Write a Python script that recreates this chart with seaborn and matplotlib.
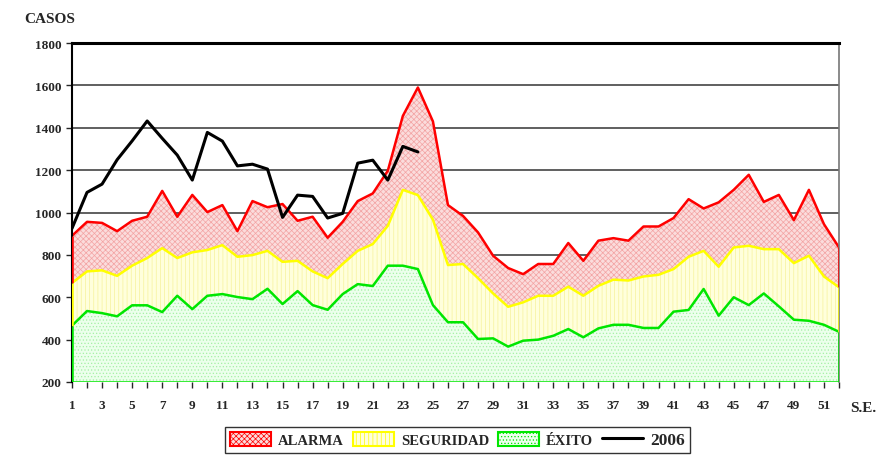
import numpy as np
import matplotlib
matplotlib.use("Agg")
import matplotlib.pyplot as plt
import seaborn as sns
from matplotlib.patches import Patch
from matplotlib.lines import Line2D

# semanas epidemiologicas
semanas = list(range(1, 53))

# canal endemico (limites superiores de cada zona)
exito = [466, 535, 525, 510, 562, 562, 530, 607, 544, 607,
         615, 601, 591, 640, 568, 629, 563, 541, 615, 662,
         653, 749, 749, 733, 563, 482, 482, 403, 406, 367,
         395, 400, 418, 450, 411, 453, 470, 470, 455, 455,
         532, 540, 639, 513, 600, 563, 618, 557, 494, 489,
         470, 437]
seguridad = [667, 722, 727, 701, 749, 785, 832, 785, 812, 823,
             846, 791, 799, 819, 767, 772, 722, 690, 757, 819,
             851, 937, 1107, 1082, 966, 752, 757, 690, 618, 555,
             576, 607, 607, 650, 607, 654, 683, 679, 698, 706,
             733, 791, 819, 744, 835, 843, 827, 827, 761, 796,
             698, 647]
alarma = [890, 956, 951, 912, 961, 980, 1102, 980, 1083, 1002,
          1035, 912, 1054, 1025, 1040, 961, 980, 881, 956, 1054,
          1090, 1197, 1456, 1590, 1430, 1035, 984, 906, 796, 738,
          709, 757, 757, 856, 772, 867, 879, 867, 934, 934,
          974, 1063, 1019, 1048, 1107, 1178, 1050, 1083, 964, 1107,
          945, 835]

# casos observados 2006
semanas_2006 = list(range(1, 25))
casos_2006 = [925, 1095, 1134, 1249, 1338, 1432, 1350, 1271, 1153, 1378,
              1337, 1220, 1228, 1205, 977, 1082, 1076, 974, 996, 1233,
              1247, 1153, 1312, 1286]

base = 200
y_ticks = list(range(200, 1801, 200))
x_labels = list(range(1, 52, 2))

sns.set_style("white")
plt.rcParams['font.family'] = ['Liberation Serif', 'DejaVu Serif']
plt.rcParams['font.weight'] = 'bold'
plt.rcParams['hatch.linewidth'] = 0.5

fig = plt.figure(figsize=(8.8, 4.6), dpi=100)
ax = fig.add_axes([0.0818, 0.1674, 0.8716, 0.7369])

# zonas rellenas
ax.fill_between(semanas, base, exito, facecolor='#ecffec', edgecolor='#a6f0a6',
                hatch='.....', linewidth=0)
ax.fill_between(semanas, exito, seguridad, facecolor='#ffffdc', edgecolor='#f6f29a',
                hatch='||||', linewidth=0)
ax.fill_between(semanas, seguridad, alarma, facecolor='#fbdcdc', edgecolor='#f3a3a3',
                hatch='xxxxxx', linewidth=0)

# lineas de borde
sns.lineplot(x=semanas, y=alarma, ax=ax, color='#ff0000', linewidth=1.8)
sns.lineplot(x=semanas, y=seguridad, ax=ax, color='#ffff00', linewidth=1.8)
sns.lineplot(x=semanas, y=exito, ax=ax, color='#00e600', linewidth=1.8)
ax.hlines(base, semanas[0], semanas[-1], color='#00e600', linewidth=1.8, zorder=4)
for i in (0, -1):
    ax.vlines(semanas[i], seguridad[i], alarma[i], color='#ff0000', linewidth=1.8, zorder=4)
    ax.vlines(semanas[i], exito[i], seguridad[i], color='#ffff00', linewidth=1.8, zorder=4)
    ax.vlines(semanas[i], base, exito[i], color='#00e600', linewidth=1.8, zorder=4)

sns.lineplot(x=semanas_2006, y=casos_2006, ax=ax, color='black', linewidth=2.2)

ax.set_xlim(1, 52)
ax.set_ylim(200, 1800)
ax.set_yticks(y_ticks)
ax.set_yticklabels([str(v) for v in y_ticks], fontsize=9.5, fontweight='bold')
ax.set_xticks(semanas, minor=True)
ax.set_xticks(x_labels)
ax.set_xticklabels([str(v) for v in x_labels], fontsize=9.5, fontweight='bold')
ax.tick_params(axis='x', which='both', direction='out', length=4, width=1, pad=8, bottom=True)
ax.tick_params(axis='y', direction='out', length=4, width=1, left=True)

for v in y_ticks[1:-1]:
    ax.axhline(v, color='#444444', linewidth=1.2, zorder=0.5)

ax.spines['top'].set_linewidth(2.2)
ax.spines['top'].set_color('black')
ax.spines['left'].set_linewidth(1.5)
ax.spines['left'].set_color('black')
ax.spines['right'].set_linewidth(1.2)
ax.spines['right'].set_color('#777777')
ax.spines['bottom'].set_visible(False)
ax.set_xlabel('')
ax.set_ylabel('')

fig.text(0.027, 0.958, 'CASOS', fontsize=11, fontweight='bold', ha='left', va='center')
fig.text(0.966, 0.112, 'S.E.', fontsize=11, fontweight='bold', ha='left', va='center')

handles = [
    Patch(facecolor='#fbdcdc', edgecolor='#ff0000', hatch='xxxxxx', linewidth=1.5, label='ALARMA'),
    Patch(facecolor='#ffffdc', edgecolor='#ffff00', hatch='||||', linewidth=1.5, label='SEGURIDAD'),
    Patch(facecolor='#ecffec', edgecolor='#00e600', hatch='.....', linewidth=1.5, label='ÉXITO'),
    Line2D([0], [0], color='black', linewidth=2.2, label='2006'),
]
leg = fig.legend(handles=handles, loc='center', bbox_to_anchor=(0.52, 0.041), ncol=4,
                 frameon=True, fancybox=False, edgecolor='black', fontsize=10.5,
                 handlelength=2.8, handleheight=1.1, columnspacing=0.6, handletextpad=0.5,
                 borderpad=0.35)
leg.get_frame().set_linewidth(1.0)
for t in leg.get_texts():
    t.set_fontweight('bold')
leg.get_texts()[3].set_fontsize(12.5)

fig.savefig('out.png', dpi=100)
